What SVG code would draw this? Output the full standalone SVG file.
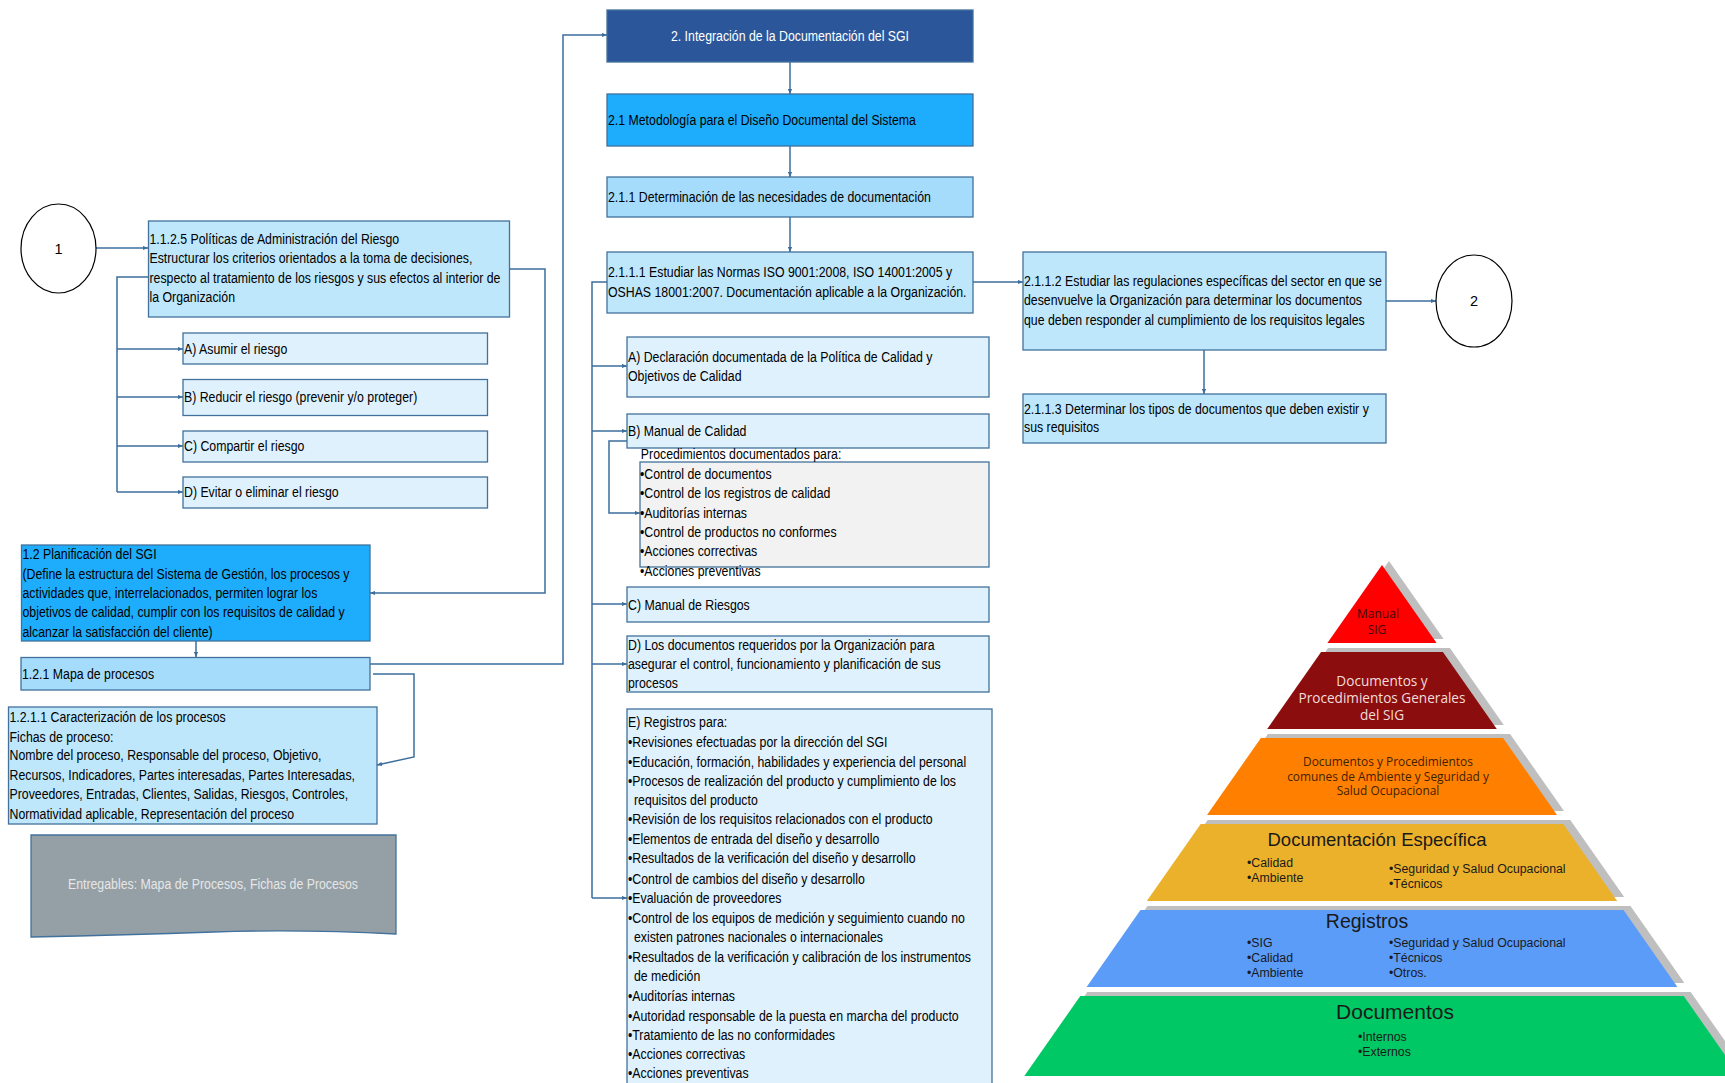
<svg xmlns="http://www.w3.org/2000/svg" width="1725" height="1083" viewBox="0 0 1725 1083">
  <style>
    .t { font-family: "Liberation Sans", Arial, sans-serif; font-size: 14.5px; fill: #000; }
    .tw { fill: #ffffff; }
    .tg { fill: #e6e6e6; }
    .box { stroke: #41719C; stroke-width: 1.3; }
    .c0 { fill: #DEF1FD; }
    .c1 { fill: #BFE7FB; }
    .c2 { fill: #A6DCFB; }
    .c3 { fill: #1EADFC; }
    .c4 { fill: #2B579A; }
    .cg { fill: #F2F2F2; }
    .cd { fill: #95A0A6; }
    .circ { fill: #fff; stroke: #000; stroke-width: 1.2; }
    .conn { fill: none; stroke: #3B6E9C; stroke-width: 1.5; }
    .arr { marker-end: url(#ah); }
    .shadow { fill: #BFBFBF; }
    .p { font-family: "Open Sans", "Liberation Sans", sans-serif; text-anchor: middle; }
    .pb { font-family: "Liberation Sans", Arial, sans-serif; fill: #1a1a1a; }
  </style>
  <defs>
    <marker id="ah" viewBox="0 0 6 6" refX="6" refY="3" markerWidth="5" markerHeight="5" markerUnits="userSpaceOnUse" orient="auto">
      <path d="M0,0.5 L6,3 L0,5.5 z" fill="#3B6E9C"/>
    </marker>
  </defs>

  <!-- connectors -->
  <g id="connectors">
    <path class="conn arr" d="M96,248 H148"/>
    <path class="conn" d="M148,277 H117 V492"/>
    <path class="conn arr" d="M117,349 H183"/>
    <path class="conn arr" d="M117,397 H183"/>
    <path class="conn arr" d="M117,446 H183"/>
    <path class="conn arr" d="M117,492 H183"/>
    <path class="conn arr" d="M510,269 H545 V593 H370"/>
    <path class="conn arr" d="M196,641 V657"/>
    <path class="conn arr" d="M370,664 H563 V35 H607"/>
    <path class="conn arr" d="M373,674 H414 V757 L377,765"/>
    <path class="conn arr" d="M790,62 V94"/>
    <path class="conn arr" d="M790,146 V177"/>
    <path class="conn arr" d="M790,217 V252"/>
    <path class="conn arr" d="M973,282 H1023"/>
    <path class="conn arr" d="M1386,301 H1436"/>
    <path class="conn arr" d="M1204,350 V394"/>
    <path class="conn" d="M607,282 H592 V898"/>
    <path class="conn arr" d="M592,366 H627"/>
    <path class="conn arr" d="M592,431 H627"/>
    <path class="conn arr" d="M592,604 H627"/>
    <path class="conn arr" d="M592,664 H627"/>
    <path class="conn arr" d="M592,898 H627"/>
    <path class="conn arr" d="M627,441 H609 V513 H640"/>
  </g>

  <!-- left column (box texts are condensed horizontally about their left edge) -->
  <g id="circle1">
    <ellipse class="circ" cx="58.5" cy="248.5" rx="37.5" ry="44.5"/>
    <text class="t" x="58.5" y="253.5" text-anchor="middle">1</text>
  </g>
  <g id="n1125">
    <rect class="box c1" x="148.5" y="221" width="361" height="96"/>
    <g transform="matrix(0.85 0 0 1 22.425 0)">
      <text class="t" x="149.5" y="244">1.1.2.5 Políticas de Administración del Riesgo</text>
      <text class="t" x="149.5" y="263.5">Estructurar los criterios orientados a la toma de decisiones,</text>
      <text class="t" x="149.5" y="283">respecto al tratamiento de los riesgos y sus efectos al interior de</text>
      <text class="t" x="149.5" y="302">la Organización</text>
    </g>
  </g>
  <g id="nA1">
    <rect class="box c0" x="183" y="333" width="304.5" height="31"/>
    <text class="t" x="184" y="354" transform="matrix(0.85 0 0 1 27.6 0)">A) Asumir el riesgo</text>
  </g>
  <g id="nB1">
    <rect class="box c0" x="183" y="379.5" width="304.5" height="36"/>
    <text class="t" x="184" y="402" transform="matrix(0.85 0 0 1 27.6 0)">B) Reducir el riesgo (prevenir y/o proteger)</text>
  </g>
  <g id="nC1">
    <rect class="box c0" x="183" y="431" width="304.5" height="31"/>
    <text class="t" x="184" y="451" transform="matrix(0.85 0 0 1 27.6 0)">C) Compartir el riesgo</text>
  </g>
  <g id="nD1">
    <rect class="box c0" x="183" y="477" width="304.5" height="31"/>
    <text class="t" x="184" y="497" transform="matrix(0.85 0 0 1 27.6 0)">D) Evitar o eliminar el riesgo</text>
  </g>
  <g id="n12">
    <rect class="box c3" x="21.5" y="545" width="348.5" height="96"/>
    <g transform="matrix(0.85 0 0 1 3.375 0)">
      <text class="t" x="22.5" y="559">1.2 Planificación del SGI</text>
      <text class="t" x="22.5" y="579">(Define la estructura del Sistema de Gestión, los procesos y</text>
      <text class="t" x="22.5" y="598">actividades que, interrelacionados, permiten lograr los</text>
      <text class="t" x="22.5" y="617">objetivos de calidad, cumplir con los requisitos de calidad y</text>
      <text class="t" x="22.5" y="637">alcanzar la satisfacción del cliente)</text>
    </g>
  </g>
  <g id="n121">
    <rect class="box c2" x="21" y="657.5" width="349" height="32.5"/>
    <text class="t" x="22" y="679" transform="matrix(0.85 0 0 1 3.3 0)">1.2.1 Mapa de procesos</text>
  </g>
  <g id="n1211">
    <rect class="box c1" x="8.5" y="707" width="368.5" height="117"/>
    <g transform="matrix(0.85 0 0 1 1.425 0)">
      <text class="t" x="9.5" y="722">1.2.1.1 Caracterización de los procesos</text>
      <text class="t" x="9.5" y="742">Fichas de proceso:</text>
      <text class="t" x="9.5" y="760">Nombre del proceso, Responsable del proceso, Objetivo,</text>
      <text class="t" x="9.5" y="780">Recursos, Indicadores, Partes interesadas, Partes Interesadas,</text>
      <text class="t" x="9.5" y="799">Proveedores, Entradas, Clientes, Salidas, Riesgos, Controles,</text>
      <text class="t" x="9.5" y="819">Normatividad aplicable, Representación del proceso</text>
    </g>
  </g>
  <g id="nEntregables">
    <path class="box cd" d="M31,835 H396 V934 Q300,929 213,932 T31,937 Z"/>
    <text class="t tg" x="213" y="889" text-anchor="middle" transform="matrix(0.85 0 0 1 31.95 0)">Entregables: Mapa de Procesos, Fichas de Procesos</text>
  </g>

  <!-- center column -->
  <g id="n2">
    <rect class="box c4" x="607" y="10" width="366" height="52"/>
    <text class="t tw" x="790" y="41" text-anchor="middle" transform="matrix(0.85 0 0 1 118.5 0)">2. Integración de la Documentación del SGI</text>
  </g>
  <g id="n21">
    <rect class="box c3" x="607" y="94" width="366" height="52"/>
    <text class="t" x="608" y="125" transform="matrix(0.85 0 0 1 91.2 0)">2.1 Metodología para el Diseño Documental del Sistema</text>
  </g>
  <g id="n211">
    <rect class="box c2" x="607" y="177" width="366" height="40"/>
    <text class="t" x="608" y="202" transform="matrix(0.85 0 0 1 91.2 0)">2.1.1 Determinación de las necesidades de documentación</text>
  </g>
  <g id="n2111">
    <rect class="box c1" x="607" y="252" width="366" height="61"/>
    <g transform="matrix(0.85 0 0 1 91.2 0)">
      <text class="t" x="608" y="277">2.1.1.1 Estudiar las Normas ISO 9001:2008, ISO 14001:2005 y</text>
      <text class="t" x="608" y="297">OSHAS 18001:2007. Documentación aplicable a la Organización.</text>
    </g>
  </g>
  <g id="nA2">
    <rect class="box c0" x="627" y="337" width="362" height="60"/>
    <g transform="matrix(0.85 0 0 1 94.2 0)">
      <text class="t" x="628" y="362">A) Declaración documentada de la Política de Calidad y</text>
      <text class="t" x="628" y="381">Objetivos de Calidad</text>
    </g>
  </g>
  <g id="nB2">
    <rect class="box c0" x="627" y="414" width="362" height="34"/>
    <text class="t" x="628" y="436" transform="matrix(0.85 0 0 1 94.2 0)">B) Manual de Calidad</text>
  </g>
  <g id="nProc">
    <rect class="box cg" x="640" y="462" width="349" height="105"/>
    <g transform="matrix(0.85 0 0 1 96 0)">
      <text class="t" x="641" y="459">Procedimientos documentados para:</text>
      <text class="t" x="640" y="479">•Control de documentos</text>
      <text class="t" x="640" y="498">•Control de los registros de calidad</text>
      <text class="t" x="640" y="518">•Auditorías internas</text>
      <text class="t" x="640" y="537">•Control de productos no conformes</text>
      <text class="t" x="640" y="556">•Acciones correctivas</text>
      <text class="t" x="640" y="576">•Acciones preventivas</text>
    </g>
  </g>
  <g id="nC2">
    <rect class="box c0" x="627" y="587" width="362" height="35"/>
    <text class="t" x="628" y="610" transform="matrix(0.85 0 0 1 94.2 0)">C) Manual de Riesgos</text>
  </g>
  <g id="nD2">
    <rect class="box c0" x="627" y="636" width="362" height="56"/>
    <g transform="matrix(0.85 0 0 1 94.2 0)">
      <text class="t" x="628" y="650">D) Los documentos requeridos por la Organización para</text>
      <text class="t" x="628" y="669">asegurar el control, funcionamiento y planificación de sus</text>
      <text class="t" x="628" y="688">procesos</text>
    </g>
  </g>
  <g id="nE2">
    <rect class="box c0" x="627" y="709" width="365" height="400"/>
    <g transform="matrix(0.85 0 0 1 94.2 0)">
      <text class="t" x="628" y="727">E) Registros para:</text>
      <text class="t" x="628" y="747">•Revisiones efectuadas por la dirección del SGI</text>
      <text class="t" x="628" y="767">•Educación, formación, habilidades y experiencia del personal</text>
      <text class="t" x="628" y="786">•Procesos de realización del producto y cumplimiento de los</text>
      <text class="t" x="635" y="805">requisitos del producto</text>
      <text class="t" x="628" y="824">•Revisión de los requisitos relacionados con el producto</text>
      <text class="t" x="628" y="844">•Elementos de entrada del diseño y desarrollo</text>
      <text class="t" x="628" y="863">•Resultados de la verificación del diseño y desarrollo</text>
      <text class="t" x="628" y="884">•Control de cambios del diseño y desarrollo</text>
      <text class="t" x="628" y="903">•Evaluación de proveedores</text>
      <text class="t" x="628" y="923">•Control de los equipos de medición y seguimiento cuando no</text>
      <text class="t" x="635" y="942">existen patrones nacionales o internacionales</text>
      <text class="t" x="628" y="962">•Resultados de la verificación y calibración de los instrumentos</text>
      <text class="t" x="635" y="981">de medición</text>
      <text class="t" x="628" y="1001">•Auditorías internas</text>
      <text class="t" x="628" y="1021">•Autoridad responsable de la puesta en marcha del producto</text>
      <text class="t" x="628" y="1040">•Tratamiento de las no conformidades</text>
      <text class="t" x="628" y="1059">•Acciones correctivas</text>
      <text class="t" x="628" y="1078">•Acciones preventivas</text>
    </g>
  </g>

  <!-- right column -->
  <g id="n2112">
    <rect class="box c1" x="1023" y="252" width="363" height="98"/>
    <g transform="matrix(0.85 0 0 1 153.6 0)">
      <text class="t" x="1024" y="286">2.1.1.2 Estudiar las regulaciones específicas del sector en que se</text>
      <text class="t" x="1024" y="305">desenvuelve la Organización para determinar los documentos</text>
      <text class="t" x="1024" y="325">que deben responder al cumplimiento de los requisitos legales</text>
    </g>
  </g>
  <g id="circle2">
    <ellipse class="circ" cx="1474" cy="301" rx="38" ry="46"/>
    <text class="t" x="1474" y="306" text-anchor="middle">2</text>
  </g>
  <g id="n2113">
    <rect class="box c1" x="1023" y="394" width="363" height="49"/>
    <g transform="matrix(0.85 0 0 1 153.6 0)">
      <text class="t" x="1024" y="414">2.1.1.3 Determinar los tipos de documentos que deben existir y</text>
      <text class="t" x="1024" y="432">sus requisitos</text>
    </g>
  </g>

  <!-- documentation pyramid -->
  <g id="pyramid">
    <g id="shadows" class="shadow" transform="translate(7,-4)">
      <polygon points="1382,565 1436.6,643 1327.4,643"/>
      <polygon points="1321.1,652 1442.9,652 1496.8,729 1267.2,729"/>
      <polygon points="1260.9,738 1503.1,738 1557,815 1207,815"/>
      <polygon points="1200.7,824 1563.3,824 1617.2,901 1146.8,901"/>
      <polygon points="1140.5,910 1623.5,910 1677.4,987 1086.6,987"/>
      <polygon points="1080.3,996 1683.7,996 1739.7,1076 1024.3,1076"/>
    </g>
    <g id="layer1">
      <polygon fill="#FF0000" points="1382,565 1436.6,643 1327.4,643"/>
      <text class="p" x="1378" y="618" font-size="12" fill="#3B0A0A">Manual</text>
      <text class="p" x="1377" y="634" font-size="12" fill="#3B0A0A">SIG</text>
    </g>
    <g id="layer2">
      <polygon fill="#8B0D0D" points="1321.1,652 1442.9,652 1496.8,729 1267.2,729"/>
      <text class="p" x="1382" y="686" font-size="13.6" fill="#F2DCDB">Documentos y</text>
      <text class="p" x="1382" y="703" font-size="13.6" fill="#F2DCDB">Procedimientos Generales</text>
      <text class="p" x="1382" y="720" font-size="13.6" fill="#F2DCDB">del SIG</text>
    </g>
    <g id="layer3">
      <polygon fill="#FF8000" points="1260.9,738 1503.1,738 1557,815 1207,815"/>
      <text class="p" x="1388" y="766" font-size="11.9" fill="#3F2200">Documentos y Procedimientos</text>
      <text class="p" x="1388" y="781" font-size="11.9" fill="#3F2200">comunes de Ambiente y Seguridad y</text>
      <text class="p" x="1388" y="795" font-size="11.9" fill="#3F2200">Salud Ocupacional</text>
    </g>
    <g id="layer4">
      <polygon fill="#EBB12B" points="1200.7,824 1563.3,824 1617.2,901 1146.8,901"/>
      <text class="pb" x="1377" y="846" font-size="18.5" text-anchor="middle">Documentación Específica</text>
      <text class="pb" x="1247" y="867" font-size="12.3">•Calidad</text>
      <text class="pb" x="1247" y="882" font-size="12.3">•Ambiente</text>
      <text class="pb" x="1389" y="873" font-size="12.3">•Seguridad y Salud Ocupacional</text>
      <text class="pb" x="1389" y="888" font-size="12.3">•Técnicos</text>
    </g>
    <g id="layer5">
      <polygon fill="#5B9CF8" points="1140.5,910 1623.5,910 1677.4,987 1086.6,987"/>
      <text class="pb" x="1367" y="928" font-size="19.5" text-anchor="middle">Registros</text>
      <text class="pb" x="1247" y="947" font-size="12.3">•SIG</text>
      <text class="pb" x="1247" y="962" font-size="12.3">•Calidad</text>
      <text class="pb" x="1247" y="977" font-size="12.3">•Ambiente</text>
      <text class="pb" x="1389" y="947" font-size="12.3">•Seguridad y Salud Ocupacional</text>
      <text class="pb" x="1389" y="962" font-size="12.3">•Técnicos</text>
      <text class="pb" x="1389" y="977" font-size="12.3">•Otros.</text>
    </g>
    <g id="layer6">
      <polygon fill="#00C864" points="1080.3,996 1683.7,996 1739.7,1076 1024.3,1076"/>
      <text class="pb" x="1395" y="1019" font-size="21" text-anchor="middle">Documentos</text>
      <text class="pb" x="1358" y="1041" font-size="12.3">•Internos</text>
      <text class="pb" x="1358" y="1056" font-size="12.3">•Externos</text>
    </g>
  </g>
</svg>
